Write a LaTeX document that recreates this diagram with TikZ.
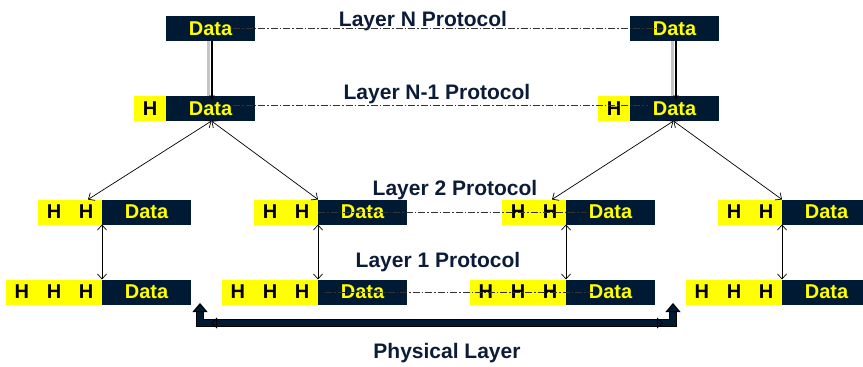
\documentclass[tikz,border=0pt]{standalone}
\usepackage{fontspec}
\setmainfont{Liberation Sans}
\usetikzlibrary{arrows.meta,calc}
\definecolor{navy}{HTML}{001A33}
\definecolor{labelc}{HTML}{0C1C38}
\definecolor{yel}{HTML}{FFFF00}
\tikzset{
  phytip/.tip={Triangle[length=9pt,width=15pt,color=black,fill=navy,line width=1pt]},
  smalltip/.tip={Triangle[length=6pt,width=11pt,color=black,fill=navy,line width=0.8pt]},
}
\begin{document}
\begin{tikzpicture}[x=1pt,y=-1pt,
  databox/.style={fill=navy, text=yel, minimum width=89pt, minimum height=25pt, inner sep=0pt, outer sep=0pt, anchor=north west, font=\fontsize{20}{20}\selectfont\bfseries},
  hbox/.style={fill=yel, text=black, minimum height=25pt, inner sep=0pt, outer sep=0pt, anchor=north west, font=\fontsize{20}{20}\selectfont\bfseries},
  lbl/.style={text=labelc, font=\fontsize{21}{21}\selectfont\bfseries, inner sep=0pt, anchor=base},
  protocol/.style={draw=black!80, line width=0.7pt, dash pattern=on 7pt off 2pt on 1.5pt off 2pt},
  link/.style={draw=black, line width=0.7pt, {Straight Barb[length=5pt,width=9pt]}-{Straight Barb[length=5pt,width=9pt]}},
  shadowline/.style={draw=gray!45, line width=3pt},
  thickline/.style={draw=black, line width=2.2pt, -{Stealth[length=5pt,width=5pt]}},
  phyout/.style={draw=black, line width=7.5pt},
  phyin/.style={draw=navy, line width=5.5pt, {phytip}-{phytip}},
  phyh/.style={draw=navy, line width=5.5pt, {smalltip}-{smalltip}},
]
\useasboundingbox (0,0) rectangle (863,367);
\clip (0,0) rectangle (863,367);

% top layer N
\node[databox] (tL) at (166,16) {Data};
\node[databox] (tR) at (630,16) {Data};
% layer N-1
\node[hbox, minimum width=32pt] (nLh) at (134,96) {H};
\node[databox] (nL) at (166,96) {Data};
\node[hbox, minimum width=32pt] (nRh) at (598,96) {H};
\node[databox] (nR) at (630,96) {Data};
% layer 2
\node[hbox, minimum width=64pt] (aH2) at (38,199.5) {H\hspace{17.6pt}H};
\node[databox] (aD2) at (102,199.5) {Data};
\node[hbox, minimum width=64pt] (bH2) at (254,199.5) {H\hspace{17.6pt}H};
\node[databox] (bD2) at (318,199.5) {Data};
\node[hbox, minimum width=64pt] (cH2) at (502,199.5) {H\hspace{17.6pt}H};
\node[databox] (cD2) at (566,199.5) {Data};
\node[hbox, minimum width=64pt] (dH2) at (718,199.5) {H\hspace{17.6pt}H};
\node[databox] (dD2) at (782,199.5) {Data};
% layer 1
\node[hbox, minimum width=96pt] (aH1) at (6,279.5) {H\hspace{17.6pt}H\hspace{17.6pt}H};
\node[databox] (aD1) at (102,279.5) {Data};
\node[hbox, minimum width=96pt] (bH1) at (222,279.5) {H\hspace{17.6pt}H\hspace{17.6pt}H};
\node[databox] (bD1) at (318,279.5) {Data};
\node[hbox, minimum width=96pt] (cH1) at (470,279.5) {H\hspace{17.6pt}H\hspace{17.6pt}H};
\node[databox] (cD1) at (566,279.5) {Data};
\node[hbox, minimum width=96pt] (dH1) at (686,279.5) {H\hspace{17.6pt}H\hspace{17.6pt}H};
\node[databox] (dD1) at (782,279.5) {Data};

% labels
\node[lbl] (lN) at (423,26) {Layer N Protocol};
\node[lbl] (lN1) at (437,99) {Layer N-1 Protocol};
\node[lbl] (l2) at (455,195) {Layer 2 Protocol};
\node[lbl] (l1) at (438,267) {Layer 1 Protocol};
\node[lbl] (lp) at (447,358) {Physical Layer};

% thick vertical links N -> N-1
\draw[shadowline] ([xshift=-2.5pt]tL.south) -- ([xshift=-2.5pt]nL.north);
\draw[thickline] ([xshift=1.5pt]tL.south) -- ([xshift=1.5pt,yshift=-4pt]nL.north);
\draw[shadowline] ([xshift=-2.5pt]tR.south) -- ([xshift=-2.5pt]nR.north);
\draw[thickline] ([xshift=1.5pt]tR.south) -- ([xshift=1.5pt,yshift=-4pt]nR.north);

% protocol lines
\draw[protocol] ([xshift=-22pt]tL.east) -- ([xshift=33pt]tR.west);
\draw[protocol] ([xshift=-22pt,yshift=3.5pt]nL.east) -- ([xshift=18pt,yshift=3.5pt]nR.west);
\draw[protocol] (bD2.west) -- ([xshift=21pt]cD2.west);
\draw[protocol] ([xshift=7pt]bD1.west) -- ([xshift=27pt]cD1.west);

% diagonal links
\draw[link] ([xshift=1pt]nL.south) -- ([xshift=-14pt]aH2.north east);
\draw[link] ([xshift=1pt]nL.south) -- (bH2.north east);
\draw[link] ([xshift=-1pt]nR.south) -- ([xshift=-14pt]cH2.north east);
\draw[link] ([xshift=-1pt]nR.south) -- (dH2.north east);

% vertical links layer 2 - layer 1
\draw[link] (aH2.south east) -- (aH1.north east);
\draw[link] (bH2.south east) -- (bH1.north east);
\draw[link] (cH2.south east) -- (cH1.north east);
\draw[link] (dH2.south east) -- (dH1.north east);

% physical layer
\coordinate (pa) at (200,303);
\coordinate (pb) at (200,323);
\coordinate (pc) at (673,323);
\coordinate (pd) at (673,303);
\coordinate (ph1) at (211,323);
\coordinate (ph2) at (663,323);
\draw[phyout, shorten <=8pt, shorten >=8pt] (pa) -- (pb) -- (pc) -- (pd);
\draw[phyin] (pa) -- (pb) -- (pc) -- (pd);
\draw[phyh] (ph1) -- (ph2);
\end{tikzpicture}
\end{document}
